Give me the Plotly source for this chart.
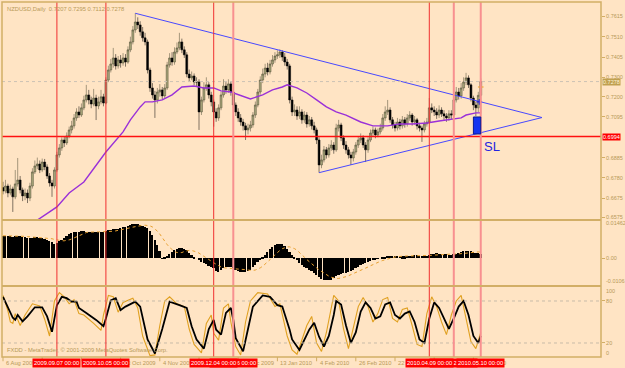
import plotly.graph_objects as go
import pandas as pd

# ---------------- data ----------------
DATES = [d for d in pd.bdate_range("2009-08-06", "2010-05-10")
         if not ((d.month == 12 and d.day == 25) or (d.month == 1 and d.day == 1))]

FIRST_OPEN = 6730
CLOSE = [6712,6738,6702,6723,6682,6749,6769,6718,6687,6702,6676,6738,6811,6842,6852,6821,6862,6837,6790,6754,
         6738,6821,6899,6935,6976,6961,6997,7028,7049,7090,7121,7105,7142,7183,7209,7183,7162,7193,7152,7173,
         7199,7167,7286,7338,7369,7400,7359,7390,7374,7400,7379,7442,7483,7545,7586,7571,7535,7504,7483,7338,
         7245,7209,7183,7224,7235,7204,7245,7364,7400,7379,7431,7452,7483,7442,7416,7317,7297,7307,7276,7276,
         7121,7183,7245,7261,7209,7173,7121,7090,7142,7209,7255,7235,7266,7224,7157,7121,7090,7069,7049,7028,
         7038,7054,7105,7157,7224,7286,7317,7348,7328,7369,7390,7410,7416,7431,7405,7379,7359,7183,7121,7131,
         7100,7121,7080,7105,7059,7080,7049,7028,6976,6847,6873,6925,6899,6935,6950,6925,7038,7054,6987,6950,
         6925,6899,6883,6914,6950,6976,6987,6950,6925,6976,7012,7028,7002,7018,7038,7090,7121,7131,7080,7054,
         7038,7069,7049,7080,7059,7090,7105,7069,7080,7049,7038,7028,7059,7069,7142,7131,7121,7105,7131,7111,
         7100,7090,7111,7105,7183,7224,7204,7245,7276,7297,7261,7193,7157,7142,7207,7278]
HIGH = [6760,6770,6750,6745,6735,6821,6883,6790,6730,6725,6720,6755,6830,6870,6885,6870,6880,6878,6850,6805,
        6770,6835,6915,6955,6990,6995,7015,7045,7075,7110,7140,7150,7165,7205,7261,7235,7200,7240,7210,7200,
        7235,7215,7300,7360,7395,7452,7420,7410,7415,7425,7420,7460,7510,7565,7632,7610,7590,7560,7530,7495,
        7350,7270,7230,7245,7265,7250,7265,7380,7425,7430,7455,7480,7530,7500,7460,7430,7340,7330,7320,7300,
        7290,7200,7275,7300,7275,7225,7185,7140,7160,7225,7290,7275,7290,7280,7235,7170,7140,7110,7085,7065,
        7060,7075,7120,7175,7240,7305,7345,7370,7375,7390,7415,7430,7440,7445,7440,7425,7395,7370,7200,7160,
        7150,7150,7135,7125,7120,7100,7095,7070,7040,6990,6900,6945,6940,6955,6975,6965,7060,7080,7065,7000,
        6970,6940,6915,6930,6965,6995,7010,7000,6965,6990,7030,7045,7040,7035,7060,7110,7150,7183,7145,7095,
        7070,7090,7085,7100,7095,7110,7125,7115,7100,7090,7065,7050,7075,7090,7193,7165,7150,7140,7155,7145,
        7130,7115,7130,7130,7200,7250,7245,7270,7300,7323,7310,7270,7205,7175,7225,7295]
LOW = [6695,6700,6680,6690,6604,6670,6735,6700,6660,6665,6650,6660,6725,6800,6825,6805,6810,6820,6775,6735,
       6682,6725,6810,6885,6920,6940,6950,6985,7010,7035,7075,7090,7095,7130,7170,7160,7140,7150,7079,7135,
       7160,7150,7160,7275,7325,7350,7340,7345,7350,7360,7355,7370,7430,7470,7530,7550,7515,7485,7465,7320,
       7225,7190,7090,7165,7200,7185,7190,7235,7350,7360,7365,7420,7440,7425,7400,7300,7280,7285,7260,7255,
       7028,7105,7170,7230,7190,7150,7045,7070,7075,7130,7195,7215,7220,7205,7140,7100,7070,7050,7025,6976,
       7005,7020,7040,7090,7145,7210,7270,7300,7310,7315,7355,7375,7395,7400,7385,7360,7340,7165,7100,7100,
       7080,7085,7060,7065,7040,7045,7030,7010,6955,6807,6830,6860,6880,6885,6920,6905,6915,7020,6970,6930,
       6905,6880,6847,6865,6900,6935,6960,6935,6862,6910,6965,6995,6985,6990,7005,7025,7075,7105,7065,7035,
       7020,7025,7030,7035,7040,7045,7075,7050,7055,7030,7020,6966,7015,7045,7060,7115,7100,7085,7090,7095,
       7080,7070,7075,7085,7095,7170,7185,7190,7230,7260,7245,7175,7130,7100,7120,7112]

MA_IDX = [12,14,19,22,27,33,38,42,49,52,56,58,61,65,69,73,78,82,86,89,93,98,101,106,110,114,116,120,124,128,
          132,136,140,146,151,157,162,167,173,178,184,187,189,193,195]
MA_VAL = [6545,6563,6604,6630,6702,6759,6847,6914,7018,7080,7147,7173,7173,7183,7209,7250,7255,7245,7245,7230,
          7224,7199,7188,7209,7235,7250,7261,7245,7219,7183,7147,7121,7105,7069,7049,7049,7059,7059,7064,7074,
          7085,7090,7105,7116,7116]

# MACD histogram (x1e-4)
MACD = [88,88,87,86,85,86,87,86,84,82,80,80,81,82,82,81,80,77,73,68,
        62,56,60,66,72,80,88,94,99,102,104,104,105,105,104,104,103,102,102,103,
        103,104,106,109,111,113,114,116,118,121,124,128,131,133,134,133,131,128,124,120,
        108,92,72,50,28,-2,2,10,18,25,31,35,38,39,36,30,22,14,6,0,
        -8,-14,-20,-25,-30,-34,-40,-50,-54,-48,-40,-35,-34,-36,-40,-46,-52,-55,-56,-55,
        -52,-45,-36,-26,-16,-6,3,14,24,34,43,50,55,56,54,46,36,24,12,2,
        -8,-18,-26,-34,-40,-46,-52,-58,-66,-75,-82,-86,-88,-88,-85,-80,-72,-66,-62,-60,
        -58,-56,-52,-46,-40,-34,-28,-24,-20,-16,-12,-8,-5,-2,0,3,6,9,10,10,
        9,8,8,7,7,8,9,10,11,11,10,9,9,10,13,16,18,19,18,17,
        16,15,14,14,15,17,20,23,26,28,29,27,24,22,20,18]

STO_D_IDX = [0,2,4,5,6,8,10,13,16,18,20,22,24,26,28,30,31,34,38,41,42,44,46,48,50,54,56,59,62,65,67,68,72,75,77,79,
             82,84,86,87,89,91,93,94,95,98,100,102,106,109,112,114,117,118,121,125,127,129,
             131,133,135,136,138,140,142,144,146,148,150,152,154,156,158,160,162,164,166,168,170,172,174,176,178,
             180,182,184,186,188,190,192,194,195]
STO_D_VAL = [86,72,56,53,60,51,58,71,71,58,36,74,86,84,79,79,70,63,53,44,55,81,84,67,72,79,72,25,5,40,67,79,74,70,44,25,
             12,40,53,39,32,63,70,53,27,8,40,72,88,86,74,72,39,25,10,39,49,29,
             15,30,60,80,75,45,20,35,65,78,70,55,58,75,78,60,55,62,65,50,25,20,55,78,70,
             55,40,55,72,80,60,30,20,30]
STO_K_IDX = [0,2,3,4,5,7,9,12,15,17,19,21,23,25,27,29,31,33,37,40,41,43,45,47,49,53,55,57,60,62,64,66,68,71,74,76,78,
             81,83,85,86,88,90,92,93,95,97,99,101,104,108,111,113,116,118,120,124,126,128,
             130,132,134,135,137,139,141,143,145,147,149,151,153,155,157,159,161,163,165,167,169,171,173,175,177,
             179,181,183,185,187,189,191,193,195]
STO_K_VAL = [88,66,50,48,62,45,60,76,73,54,30,80,92,86,76,82,62,60,48,38,60,88,86,64,78,84,70,30,2,3,45,80,86,76,72,40,18,
             6,48,60,34,24,70,76,50,15,3,50,80,92,90,72,76,30,10,4,45,58,20,
             8,35,70,88,80,40,12,40,72,85,72,50,62,82,85,55,50,68,70,45,18,15,62,86,72,
             50,32,60,80,88,55,22,12,35]

VLINES_RED = [22, 42, 86, 174]
VLINES_PINK = [94, 184, 195]
SUPPORT_LEVEL = 0.6994
BID = 0.7278
TRI_UPPER = [(54, 0.7631), (220, 0.7092)]
TRI_LOWER = [(129, 0.6807), (220, 0.7092)]
SL_BOX = (192, 195, 0.7007, 0.7095)
ARROW_BLUE = (194.4, 0.7173)
ARROW_ORANGE = (195, 0.7250)
PRICE_TICKS = ["0.6575", "0.6675", "0.6780", "0.6885", "0.7095", "0.7200", "0.7300", "0.7405", "0.7510", "0.7615"]
DATE_TICK_IDX = [0, 16, 32, 48, 64, 80, 96, 112, 128, 144, 160, 176, 192]

# ---------------- derived ----------------
N = len(CLOSE)
X = list(range(N))
close = [c / 10000 for c in CLOSE]
opn = [FIRST_OPEN / 10000] + close[:-1]
high = [h / 10000 for h in HIGH]
low = [l / 10000 for l in LOW]
macd = [m / 10000 for m in MACD]
signal = []
for i in range(N):
    w = macd[max(0, i - 8):i + 1]
    signal.append(sum(w) / len(w))

BG = "#FFE4C4"
TAN = "#D2AE66"
TXT = "#B89A58"
FONT = "Liberation Sans"
FS = 5.8
FSA = 5.5

fig = go.Figure()
fig.add_trace(go.Candlestick(
    x=X, open=opn, high=high, low=low, close=close, xaxis="x", yaxis="y",
    increasing=dict(line=dict(color="#4A4832", width=0.5), fillcolor="#A9A67A"),
    decreasing=dict(line=dict(color="#000000", width=0.5), fillcolor="#000000"),
    whiskerwidth=0, showlegend=False, hoverinfo="skip"))
fig.add_trace(go.Scatter(x=MA_IDX, y=[v / 10000 for v in MA_VAL], mode="lines",
                         line=dict(color="#9A30D8", width=1.4), xaxis="x", yaxis="y", showlegend=False))
for seg in (TRI_UPPER, TRI_LOWER):
    fig.add_trace(go.Scatter(x=[p[0] for p in seg], y=[p[1] for p in seg], mode="lines",
                             line=dict(color="#4848FF", width=1), xaxis="x", yaxis="y", showlegend=False))
fig.add_trace(go.Scatter(x=[ARROW_BLUE[0]], y=[ARROW_BLUE[1]], mode="markers",
                         marker=dict(symbol="cross-thin", size=4, line=dict(color="#2020E0", width=1.2)),
                         xaxis="x", yaxis="y", showlegend=False))
fig.add_trace(go.Scatter(x=[ARROW_ORANGE[0]], y=[ARROW_ORANGE[1]], mode="markers",
                         marker=dict(symbol="cross-thin", size=4, line=dict(color="#F0A020", width=1.2)),
                         xaxis="x", yaxis="y", showlegend=False))

fig.add_trace(go.Bar(x=X, y=macd, marker=dict(color="#000000", line=dict(width=0)), width=0.72,
                     xaxis="x2", yaxis="y2", showlegend=False))
fig.add_trace(go.Scatter(x=X, y=signal, mode="lines", line=dict(color="#E8A030", width=1, dash="dot"),
                         xaxis="x2", yaxis="y2", showlegend=False))

fig.add_trace(go.Scatter(x=STO_K_IDX, y=STO_K_VAL, mode="lines", line=dict(color="#E0A020", width=1.1),
                         xaxis="x3", yaxis="y3", showlegend=False))
fig.add_trace(go.Scatter(x=STO_D_IDX, y=STO_D_VAL, mode="lines", line=dict(color="#000000", width=1.8),
                         xaxis="x3", yaxis="y3", showlegend=False))

XR = [-0.41, 244.08]
D_MAIN = [0.3887, 1.0]
D_MACD = [0.2028, 0.3831]
D_STO = [0.0, 0.1972]
ax_common = dict(side="right", ticks="outside", ticklen=3, tickcolor=TAN, showgrid=False, zeroline=False,
                 showline=False, tickfont=dict(family=FONT, size=FSA, color=TXT), automargin=False, fixedrange=True)
fig.update_layout(
    width=625, height=368, margin=dict(l=2, r=24, t=2, b=11),
    paper_bgcolor=BG, plot_bgcolor=BG, showlegend=False, bargap=0, boxgap=0.22, boxgroupgap=0,
    xaxis=dict(range=XR, domain=[0, 1], anchor="y", showticklabels=False, showgrid=False, zeroline=False,
               rangeslider=dict(visible=False), ticks=""),
    xaxis2=dict(range=XR, domain=[0, 1], anchor="y2", showticklabels=False, showgrid=False, zeroline=False, matches="x"),
    xaxis3=dict(range=XR, domain=[0, 1], anchor="y3", showticklabels=False, showgrid=False, zeroline=False, matches="x"),
    yaxis=dict(domain=D_MAIN, range=[0.65675, 0.76893], tickvals=[float(t) for t in PRICE_TICKS],
               ticktext=PRICE_TICKS, anchor="x", **ax_common),
    yaxis2=dict(domain=D_MACD, range=[-0.01061, 0.01462], tickvals=[0.0], ticktext=["0.00"], anchor="x2", **ax_common),
    yaxis3=dict(domain=D_STO, range=[0, 100], tickvals=[80, 20], ticktext=["80", "20"], anchor="x3", **ax_common),
)

shapes = []
for lv in (80, 20):
    shapes.append(dict(type="line", xref="x3 domain", x0=0, x1=1, yref="y3", y0=lv, y1=lv,
                       line=dict(color="#C8BBA8", width=1, dash="dot")))
shapes.append(dict(type="line", xref="x domain", x0=0, x1=1, yref="y", y0=BID, y1=BID,
                   line=dict(color="#CCC2B4", width=1, dash="dot")))
shapes.append(dict(type="line", xref="x domain", x0=0, x1=1, yref="y", y0=SUPPORT_LEVEL, y1=SUPPORT_LEVEL,
                   line=dict(color="#FF1010", width=1.6)))
for v in VLINES_PINK:
    shapes.append(dict(type="line", xref="x", x0=v, x1=v, yref="paper", y0=0, y1=1,
                       line=dict(color="#F89090", width=2)))
for v in VLINES_RED:
    shapes.append(dict(type="line", xref="x", x0=v, x1=v, yref="paper", y0=0, y1=1,
                       line=dict(color="#F03030", width=1)))
shapes.append(dict(type="rect", xref="x", x0=SL_BOX[0], x1=SL_BOX[1], yref="y", y0=SL_BOX[2], y1=SL_BOX[3],
                   fillcolor="#1434F0", line=dict(color="#0A1A90", width=1)))
shapes.append(dict(type="rect", xref="paper", x0=0, x1=1, yref="paper", y0=0, y1=1,
                   line=dict(color=TAN, width=1.5), layer="above"))
for yy in (0.3859, 0.2):
    shapes.append(dict(type="line", xref="paper", x0=0, x1=1, yref="paper", y0=yy, y1=yy,
                       line=dict(color=TAN, width=2.2), layer="above"))
for i in DATE_TICK_IDX:
    shapes.append(dict(type="line", xref="x", x0=i, x1=i, yref="paper", y0=0, y1=-0.012,
                       line=dict(color=TAN, width=1)))
fig.update_layout(shapes=shapes)

small = dict(family=FONT, size=FS, color=TXT)
ann = []
ann.append(dict(text="NZDUSD,Daily  0.7207 0.7295 0.7112 0.7278", xref="paper", yref="paper", x=0, y=1,
                xanchor="left", yanchor="top", xshift=3, yshift=-2, showarrow=False, font=small))
ann.append(dict(text="FXDD - MetaTrader, © 2001-2009 MetaQuotes Software Corp.", xref="paper", yref="paper",
                x=0, y=0, xanchor="left", yanchor="bottom", xshift=3, yshift=2, showarrow=False, font=small))
for txt, py in (("0.01462", 0.3775), ("-0.01061", 0.2149), ("100", 0.1868), ("0", 0.0121)):
    ann.append(dict(text=txt, xref="paper", yref="paper", x=1, y=py, xanchor="left", yanchor="middle",
                    xshift=3, showarrow=False, font=dict(family=FONT, size=FSA, color=TXT)))
for i in DATE_TICK_IDX:
    d = DATES[i]
    ann.append(dict(text=f"{d.day} {d.strftime('%b %Y')}", xref="x", yref="paper", x=i, y=0,
                    xanchor="left", yanchor="top", xshift=1, yshift=-1, showarrow=False, font=small))
for i in [94, 86, 22, 42, 184, 174, 195]:
    d = DATES[i]
    ann.append(dict(text=d.strftime("%Y.%m.%d 00:00"), xref="x", yref="paper", x=i, y=0,
                    xanchor="center", yanchor="top", yshift=-1, showarrow=False, bgcolor="#FF0000",
                    borderpad=1, font=dict(family=FONT, size=FS, color="#FFFFFF")))
ann.append(dict(text=f"{SUPPORT_LEVEL:.4f}", xref="paper", yref="y", x=1, y=SUPPORT_LEVEL, xanchor="left",
                xshift=1, showarrow=False, bgcolor="#FF0000", borderpad=0,
                font=dict(family=FONT, size=FSA, color="#FFFFFF")))
ann.append(dict(text=f"{BID:.4f}", xref="paper", yref="y", x=1, y=BID, xanchor="left",
                xshift=1, showarrow=False, bgcolor="#C0A050", borderpad=0,
                font=dict(family=FONT, size=FSA, color="#FFF4D8")))
ann.append(dict(text="SL", xref="x", yref="y", x=199.5, y=0.6942, showarrow=False,
                font=dict(family=FONT, size=13, color="#2424E0")))
fig.update_layout(annotations=ann)

fig.write_html("out.html")
